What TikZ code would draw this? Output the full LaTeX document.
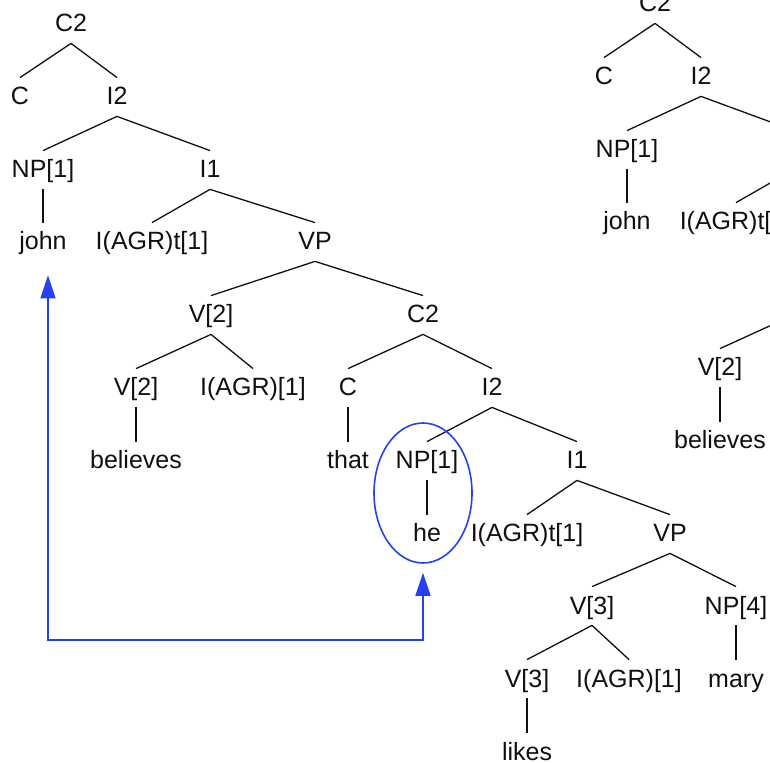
\documentclass[tikz,border=0pt]{standalone}
\usepackage{fontspec}
\setmainfont{Liberation Sans}
\usetikzlibrary{arrows.meta,shapes.geometric}
\definecolor{linkblue}{HTML}{2440F2}
\definecolor{treeblack}{HTML}{101010}

\begin{document}
\begin{tikzpicture}[x=0.5pt,y=-0.5pt,
  cat/.style={font=\fontsize{12.5}{15}\selectfont,text=treeblack,
              inner sep=0pt,text height=13.5pt,text depth=5.5pt,anchor=base},
  stub/.style={cat,minimum width=0pt},
  branch/.style={draw=treeblack,line width=0.65pt},
  ring/.style={ellipse,draw=linkblue,line width=0.8pt,inner sep=0pt,
               minimum width=49pt,minimum height=70pt},
  link/.style={{Triangle[width=7.5pt,length=11.5pt]}-{Triangle[width=7.5pt,length=11.5pt]},
               draw=linkblue,line width=0.8pt,shorten <=4.5pt,shorten >=7pt}
]
  \useasboundingbox (0,0) rectangle (770,763);
  \clip (0,0) rectangle (770,763);

  % ---- Main tree: john believes that he likes mary ---------------
  \node[cat] (c2a)  at (71,32)   {C2};
  \node[cat] (c1)   at (20,105)  {C};
  \node[cat] (i2a)  at (117,105) {I2};
  \node[cat] (np1)  at (43,178)  {NP[1]};
  \node[cat] (i1a)  at (210,178) {I1};
  \node[cat] (john) at (43,250)  {john};
  \node[cat] (it1)  at (152,250) {I(AGR)t[1]};
  \node[cat] (vp1)  at (315,250) {VP};
  \node[cat] (v2a)  at (211,323) {V[2]};
  \node[cat] (c2b)  at (423,323) {C2};
  \node[cat] (v2b)  at (136,396) {V[2]};
  \node[cat] (agr1) at (253,396) {I(AGR)[1]};
  \node[cat] (c3)   at (348,396) {C};
  \node[cat] (i2b)  at (492,396) {I2};
  \node[cat] (bel)  at (136,469) {believes};
  \node[cat] (that) at (348,469) {that};
  \node[cat] (np2)  at (427,469) {NP[1]};
  \node[cat] (i1b)  at (577,469) {I1};
  \node[cat] (he)   at (427,542) {he};
  \node[cat] (it2)  at (527,542) {I(AGR)t[1]};
  \node[cat] (vp2)  at (670,542) {VP};
  \node[cat] (v3a)  at (592,614) {V[3]};
  \node[cat] (np4)  at (736,614) {NP[4]};
  \node[cat] (v3b)  at (527,687) {V[3]};
  \node[cat] (agr2) at (629,687) {I(AGR)[1]};
  \node[cat] (mary) at (736,687) {mary};
  \node[cat] (likes) at (527,760) {likes};

  \draw[branch] (c2a.south) -- (c1.north);  \draw[branch] (c2a.south) -- (i2a.north);
  \draw[branch] (i2a.south) -- (np1.north); \draw[branch] (i2a.south) -- (i1a.north);
  \draw[branch] (np1.south) -- (john.north);
  \draw[branch] (i1a.south) -- (it1.north); \draw[branch] (i1a.south) -- (vp1.north);
  \draw[branch] (vp1.south) -- (v2a.north); \draw[branch] (vp1.south) -- (c2b.north);
  \draw[branch] (v2a.south) -- (v2b.north); \draw[branch] (v2a.south) -- (agr1.north);
  \draw[branch] (v2b.south) -- (bel.north);
  \draw[branch] (c2b.south) -- (c3.north);  \draw[branch] (c2b.south) -- (i2b.north);
  \draw[branch] (c3.south) -- (that.north);
  \draw[branch] (i2b.south) -- (np2.north); \draw[branch] (i2b.south) -- (i1b.north);
  \draw[branch] (np2.south) -- (he.north);
  \draw[branch] (i1b.south) -- (it2.north); \draw[branch] (i1b.south) -- (vp2.north);
  \draw[branch] (vp2.south) -- (v3a.north); \draw[branch] (vp2.south) -- (np4.north);
  \draw[branch] (v3a.south) -- (v3b.north); \draw[branch] (v3a.south) -- (agr2.north);
  \draw[branch] (np4.south) -- (mary.north);
  \draw[branch] (v3b.south) -- (likes.north);

  % ---- Second tree, running off the right edge -------------------
  \node[cat]  (rc2)   at (655,12)  {C2};
  \node[cat]  (rc)    at (604,85)  {C};
  \node[cat]  (ri2)   at (701,85)  {I2};
  \node[cat]  (rnp)   at (627,158) {NP[1]};
  \node[stub] (ri1)   at (794,158) {};
  \node[cat]  (rjohn) at (627,230) {john};
  \node[cat]  (rit)   at (736,230) {I(AGR)t[1]};
  \node[stub] (rv2a)  at (795,303) {};
  \node[cat]  (rv2b)  at (720,376) {V[2]};
  \node[cat]  (rbel)  at (720,449) {believes};

  \draw[branch] (rc2.south) -- (rc.north);  \draw[branch] (rc2.south) -- (ri2.north);
  \draw[branch] (ri2.south) -- (rnp.north); \draw[branch] (ri2.south) -- (ri1.north);
  \draw[branch] (rnp.south) -- (rjohn.north);
  \draw[branch] (ri1.south) -- (rit.north);
  \draw[branch] (rv2a.south) -- (rv2b.north);
  \draw[branch] (rv2b.south) -- (rbel.north);

  % ---- Binding link from the pronoun back to john ----------------
  \node[ring] (ell) at (423,493) {};
  \coordinate (hook) at (48,640);
  \draw[link] (ell.south) |- (hook) -- (hook |- john.south);

\end{tikzpicture}
\end{document}
